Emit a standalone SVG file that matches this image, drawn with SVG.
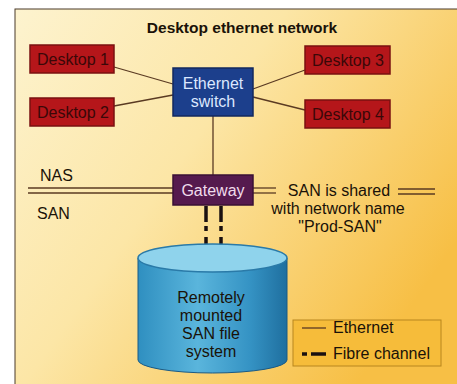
<svg xmlns="http://www.w3.org/2000/svg" width="457" height="384" viewBox="0 0 457 384">
<defs>
<linearGradient id="bg" x1="0" y1="0" x2="1" y2="0.6">
<stop offset="0" stop-color="#fdf3cf"/>
<stop offset="0.45" stop-color="#fce6a6"/>
<stop offset="1" stop-color="#f7bf45"/>
</linearGradient>
<linearGradient id="cyl" x1="0" y1="0" x2="1" y2="0">
<stop offset="0" stop-color="#2f8fc0"/>
<stop offset="0.4" stop-color="#5ab5dc"/>
<stop offset="0.75" stop-color="#3593c4"/>
<stop offset="1" stop-color="#1f6f9f"/>
</linearGradient>
<style>
.t{font-family:"Liberation Sans",Arial,sans-serif;font-size:16px;fill:#1a1208}
.desk rect{fill:#b5161a;stroke:#7a1010;stroke-width:1.5}
.desk text{font-family:"Liberation Sans",Arial,sans-serif;font-size:16px;fill:#3a0808;text-anchor:middle}
.eth{stroke:#5a3a22;stroke-width:1.3;fill:none}
.fc{stroke:#1a1010;stroke-width:3.5;stroke-dasharray:16 4 5 6;fill:none}
</style>
</defs>
<rect x="0" y="0" width="457" height="384" fill="#ffffff"/>
<rect x="15" y="9" width="445" height="380" fill="url(#bg)" stroke="#4a3a2a" stroke-width="1"/>
<text class="t" x="242" y="33" text-anchor="middle" font-weight="bold" style="font-size:15.5px">Desktop ethernet network</text>

<g id="connectors">
<line class="eth" x1="114" y1="67" x2="173" y2="84"/>
<line class="eth" x1="114" y1="106" x2="173" y2="95"/>
<line class="eth" x1="305" y1="70" x2="253" y2="89"/>
<line class="eth" x1="305" y1="110" x2="253" y2="97"/>
<line class="eth" x1="213" y1="116" x2="213" y2="176"/>
<line class="eth" x1="28" y1="188" x2="173" y2="188"/>
<line class="eth" x1="28" y1="193" x2="173" y2="193"/>
<line class="eth" x1="253" y1="188" x2="276" y2="188"/>
<line class="eth" x1="253" y1="193" x2="276" y2="193"/>
<line class="eth" x1="398" y1="189" x2="435" y2="189"/>
<line class="eth" x1="398" y1="194" x2="435" y2="194"/>
<line class="fc" x1="206" y1="206" x2="206" y2="252"/>
<line class="fc" x1="221" y1="206" x2="221" y2="252"/>
</g>

<g id="desktop1" class="desk"><rect x="30" y="45" width="84" height="28"/><text x="73" y="65">Desktop 1</text></g>
<g id="desktop2" class="desk"><rect x="30" y="98" width="84" height="28"/><text x="73" y="118">Desktop 2</text></g>
<g id="desktop3" class="desk"><rect x="305" y="46" width="85" height="28"/><text x="348" y="66">Desktop 3</text></g>
<g id="desktop4" class="desk"><rect x="305" y="100" width="85" height="28"/><text x="348" y="120">Desktop 4</text></g>

<g id="switch">
<rect x="173" y="68" width="80" height="48" fill="#1c3f8c" stroke="#12285e" stroke-width="1.5"/>
<text class="t" x="213" y="89" text-anchor="middle" style="fill:#dce8ff">Ethernet</text>
<text class="t" x="213" y="107" text-anchor="middle" style="fill:#dce8ff">switch</text>
</g>

<g id="gateway">
<rect x="173" y="175" width="80" height="30" fill="#551a4e" stroke="#3a1035" stroke-width="1.5"/>
<text class="t" x="213" y="196" text-anchor="middle" style="fill:#f0dcec">Gateway</text>
</g>

<text class="t" x="40" y="181">NAS</text>
<text class="t" x="37" y="219">SAN</text>
<text class="t" x="339" y="196" text-anchor="middle">SAN is shared</text>
<text class="t" x="338" y="214" text-anchor="middle">with network name</text>
<text class="t" x="340" y="232" text-anchor="middle">"Prod-SAN"</text>

<g id="storage">
<path d="M138,258 L138,360 A74.5,13 0 0 0 287,360 L287,258 Z" fill="url(#cyl)" stroke="#1a5a85" stroke-width="1"/>
<ellipse cx="212.5" cy="258" rx="74.5" ry="14" fill="#8fd3ec" stroke="#2a7aa8" stroke-width="1.5"/>
<text class="t" x="211" y="303" text-anchor="middle">Remotely</text>
<text class="t" x="211" y="321" text-anchor="middle">mounted</text>
<text class="t" x="211" y="339" text-anchor="middle">SAN file</text>
<text class="t" x="211" y="357" text-anchor="middle">system</text>
</g>

<g id="legend">
<rect x="293" y="320" width="148" height="46" fill="#f6bc3a" stroke="#b8861e" stroke-width="1"/>
<line class="eth" x1="302" y1="328" x2="326" y2="328"/>
<text class="t" x="333" y="333">Ethernet</text>
<line x1="302" y1="354" x2="307" y2="354" stroke="#1a1010" stroke-width="3.5"/>
<line x1="311" y1="354" x2="326" y2="354" stroke="#1a1010" stroke-width="3.5"/>
<text class="t" x="333" y="359">Fibre channel</text>
</g>
</svg>
